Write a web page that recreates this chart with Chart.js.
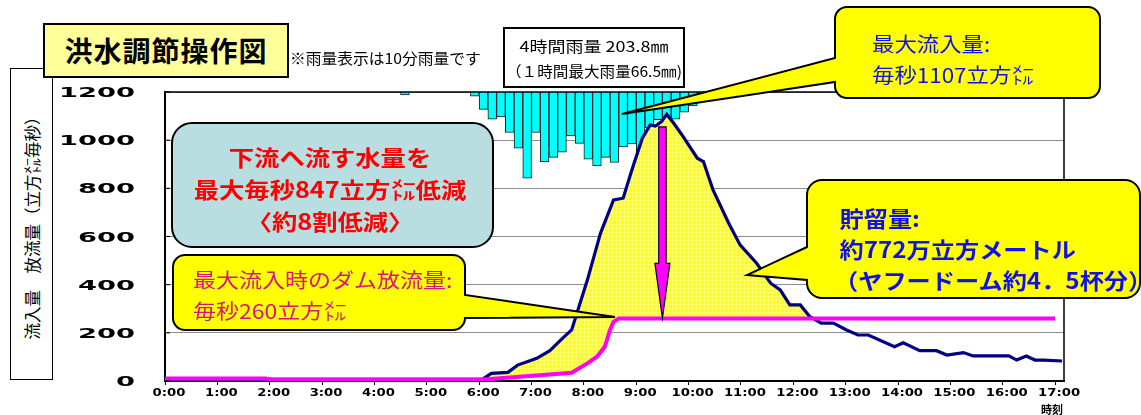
<!DOCTYPE html>
<html lang="ja">
<head>
<meta charset="utf-8">
<title>洪水調節操作図</title>
<script src="https://cdn.jsdelivr.net/npm/chart.js@4.4.1/dist/chart.umd.min.js"></script>
<style>
  body { margin: 0; background: #fff; }
  #wrap { position: relative; width: 1141px; height: 415px; overflow: hidden; background: #fff;
          font-family: "Noto Sans CJK JP", "Noto Sans", sans-serif; }
  #c, #shapes { position: absolute; left: 0; top: 0; }
  .txt { position: absolute; white-space: nowrap; }
  .ytitle { position: absolute; left: 10px; top: 68px; width: 43px; height: 312px; box-sizing: border-box;
            border: 1.5px solid #000; background: #fff; }
  .ytitle span { position: absolute; left: 50%; top: 50%; white-space: nowrap; font-size: 16.5px;
                 transform: translate(-50%, -50%) rotate(-90deg); }
  .title { position: absolute; left: 43px; top: 23px; width: 246px; height: 55px; box-sizing: border-box;
           border: 2px solid #000; background: #ffff99; font-weight: bold; font-size: 28px;
           letter-spacing: 1px; line-height: 51px; text-align: center; }
  .rainbox { position: absolute; left: 503px; top: 27px; width: 182px; height: 61px; box-sizing: border-box;
             border: 2px solid #000; background: #fff; }
  .rainbox div { position: absolute; left: 0; width: 178px; text-align: center; white-space: nowrap; }
</style>
</head>
<body>
<div id="wrap">
  <canvas id="c" width="1141" height="415"></canvas>
  <svg id="shapes" width="1141" height="415">
    <path d="M847,7 H1088 A12,12 0 0 1 1100,19 V86 A12,12 0 0 1 1088,98 H847 A12,12 0 0 1 835,86 V82 L622,114 L835,58 V19 A12,12 0 0 1 847,7 Z"
          fill="#ffff00" stroke="#000" stroke-width="2"/>
    <rect x="172" y="123" width="321" height="124" rx="20" fill="#b8dee2" stroke="#000" stroke-width="2"/>
    <path d="M185,255 H453 A12,12 0 0 1 465,267 V295 L615,317 L465,318 A12,12 0 0 1 453,330 H185 A12,12 0 0 1 173,318 V267 A12,12 0 0 1 185,255 Z"
          fill="#ffff00" stroke="#000" stroke-width="2"/>
    <path d="M822,180 H1125 A15,15 0 0 1 1140,195 V283 A15,15 0 0 1 1125,298 H822 A15,15 0 0 1 807,283 V280 L747,275 L807,247 V195 A15,15 0 0 1 822,180 Z"
          fill="#ffff00" stroke="#000" stroke-width="2"/>
  </svg>

  <div class="ytitle"><span>流入量　放流量（立方㍍毎秒）</span></div>
  <div class="title">洪水調節操作図</div>
  <div class="txt" style="left:290px; top:48px; font-size:15px; line-height:20px; transform:scaleX(1.05); transform-origin:left;">※雨量表示は10分雨量です</div>

  <div class="rainbox">
    <div style="top:6px; font-size:15px; line-height:22px; transform:scaleX(1.2);">4時間雨量 203.8㎜</div>
    <div style="top:32px; font-size:15px; line-height:20px; transform:scaleX(1.04);">（１時間最大雨量66.5㎜)</div>
  </div>

  <div class="txt" style="left:872px; top:27.5px; font-size:20px; line-height:31px; color:#1010e8; transform:scaleX(1.12); transform-origin:left;">最大流入量:<br>毎秒1107立方㍍</div>

  <div class="txt" style="left:165px; width:330px; top:140px; font-size:22px; line-height:32px; font-weight:bold; color:#ff0000; text-align:center; transform:scaleX(1.15);">下流へ流す水量を<br>最大毎秒847立方㍍低減<br>〈約8割低減〉</div>

  <div class="txt" style="left:193px; top:263.5px; font-size:20px; line-height:31px; color:#d6157c; transform:scaleX(1.15); transform-origin:left;">最大流入時のダム放流量:<br>毎秒260立方㍍</div>

  <div class="txt" style="left:834px; top:201.5px; font-size:22px; line-height:31px; font-weight:bold; color:#1010e8; transform:scaleX(1.1); transform-origin:left;">&nbsp;貯留量:<br>&nbsp;約772万立方メートル<br>（ヤフードーム約4．5杯分）</div>

  <div class="txt" style="left:1041px; top:402px; font-size:11px; line-height:14px; font-weight:bold;">時刻</div>
</div>

<script>
// 洪水調節操作図

// 流入量（立方㍍毎秒）
const inflowTime = ["0:00", "5:58", "6:04", "6:14", "6:33", "6:44", "6:55", "7:06", "7:21", "7:36", "7:46",
  "8:04", "8:19", "8:34", "8:45", "8:55", "9:07", "9:16", "9:22", "9:29", "9:35", "9:43", "9:54",
  "10:10", "10:17", "10:28", "10:46", "10:59", "11:18", "11:34", "11:45", "11:56", "12:08", "12:19",
  "12:32", "12:46", "13:01", "13:14", "13:26", "13:56", "14:06", "14:25", "14:44", "14:56", "15:15",
  "15:26", "16:07", "16:16", "16:27", "16:37", "16:47", "17:08"];
const inflowValue = [7, 7, 8, 32, 36, 66, 80, 94, 126, 179, 212,
  419, 613, 752, 759, 876, 1008, 1063, 1059, 1077, 1107, 1070, 1014,
  925, 911, 793, 655, 565, 489, 406, 378, 316, 316, 267,
  240, 240, 212, 191, 191, 142, 159, 126, 126, 108, 118,
  104, 104, 87, 104, 87, 87, 83];

// 放流量（立方㍍毎秒）
const outflowTime = ["0:00", "1:55", "2:03", "6:05", "7:46", "8:04", "8:15", "8:24", "8:30", "8:34", "8:40", "17:00"];
const outflowValue = [10, 10, 6, 6, 34, 73, 101, 142, 212, 246, 260, 260];

// 10分雨量（mm）
const rainTime = ["4:35", "5:55", "6:05", "6:15", "6:25", "6:35", "6:45", "6:55", "7:05", "7:15", "7:25",
  "7:35", "7:45", "7:55", "8:05", "8:15", "8:25", "8:35", "8:45", "8:55", "9:05", "9:15", "9:25",
  "9:35", "9:45", "9:55", "10:05", "10:15"];
const rainValue = [0.5, 0.7, 3.0, 4.7, 4.3, 7.0, 9.7, 14.9, 7.0, 12.1, 11.3,
  10.4, 7.6, 8.9, 11.6, 12.8, 11.3, 12.2, 9.5, 9.0, 10.7, 6.2, 4.8,
  4.5, 4.7, 3.5, 2.4, 0.9];

// 目盛
const flowTicks = [0, 200, 400, 600, 800, 1000, 1200];
const hourRange = [0, 17.17];
const rainRange = [0, 50];

// 最大流入時の低減（矢印）
const peakTime = "9:30";
const peakFrom = 1055;
const peakTo = 260;

function toHours(s) {
  const p = s.split(":");
  return Number(p[0]) + Number(p[1]) / 60;
}

function toPoints(times, values) {
  return times.map((t, i) => ({ x: toHours(t), y: values[i] }));
}

const canvas = document.getElementById("c");
const ctx = canvas.getContext("2d");

// 貯留量の網掛け
function makeMesh() {
  const tile = document.createElement("canvas");
  tile.width = 4;
  tile.height = 4;
  const g = tile.getContext("2d");
  g.fillStyle = "rgba(255,255,0,0.95)";
  g.fillRect(0, 0, 4, 4);
  g.fillStyle = "rgba(255,255,110,0.95)";
  g.fillRect(0, 0, 4, 1);
  g.fillRect(0, 0, 1, 4);
  return ctx.createPattern(tile, "repeat");
}

const decor = {
  id: "decor",
  afterDatasetsDraw(chart) {
    const c = chart.ctx;
    const xs = chart.scales.x;
    const ys = chart.scales.y;
    const x = xs.getPixelForValue(toHours(peakTime));
    const top = ys.getPixelForValue(peakFrom);
    const tip = ys.getPixelForValue(peakTo);
    const head = 55;
    c.save();
    c.beginPath();
    c.moveTo(x - 3.7, top);
    c.lineTo(x + 3.7, top);
    c.lineTo(x + 3.7, tip - head);
    c.lineTo(x + 7.5, tip - head);
    c.lineTo(x, tip);
    c.lineTo(x - 7.5, tip - head);
    c.lineTo(x - 3.7, tip - head);
    c.closePath();
    c.fillStyle = "#ff00ff";
    c.fill();
    c.lineWidth = 1.2;
    c.strokeStyle = "#000";
    c.stroke();
    c.restore();
  },
  afterDraw(chart) {
    const c = chart.ctx;
    const a = chart.chartArea;
    const xs = chart.scales.x;
    const ys = chart.scales.y;
    c.save();
    // 枠
    c.strokeStyle = "#000";
    c.lineWidth = 1.5;
    c.beginPath();
    c.moveTo(a.left, a.top);
    c.lineTo(a.right, a.top);
    c.lineTo(a.right, a.bottom);
    c.stroke();
    // 縦軸の内向き目盛
    c.lineWidth = 1;
    ys.ticks.forEach(t => {
      const py = ys.getPixelForValue(t.value);
      c.beginPath();
      c.moveTo(a.left, py);
      c.lineTo(a.left + 5, py);
      c.stroke();
    });
    // 目盛ラベル（横長の太字）
    c.fillStyle = "#000";
    c.textBaseline = "middle";
    c.font = "bold 11px 'DejaVu Sans'";
    c.textAlign = "center";
    xs.ticks.forEach(t => {
      c.save();
      c.translate(xs.getPixelForValue(t.value) + 4, 393);
      c.scale(1.2, 1);
      c.fillText(t.label, 0, 0);
      c.restore();
    });
    c.font = "bold 14px 'DejaVu Sans'";
    c.textAlign = "right";
    ys.ticks.forEach(t => {
      c.save();
      c.translate(135, ys.getPixelForValue(t.value) + 1.5);
      c.scale(1.95, 1);
      c.fillText(t.label, 0, 0);
      c.restore();
    });
    c.restore();
  }
};

new Chart(canvas, {
  type: "line",
  data: {
    datasets: [
      {
        label: "流入量",
        data: toPoints(inflowTime, inflowValue),
        borderColor: "#000080",
        borderWidth: 3.2,
        pointRadius: 0,
        tension: 0,
        fill: { target: 1, above: makeMesh(), below: "rgba(0,0,0,0)" },
        order: 1
      },
      {
        label: "放流量",
        data: toPoints(outflowTime, outflowValue),
        borderColor: "#ff00ff",
        borderWidth: 4,
        pointRadius: 0,
        tension: 0,
        fill: false,
        order: 0
      },
      {
        type: "bar",
        label: "10分雨量",
        data: toPoints(rainTime, rainValue),
        yAxisID: "rain",
        backgroundColor: "#00ffff",
        borderColor: "#1a1a1a",
        borderWidth: 1,
        barPercentage: 1,
        categoryPercentage: 1,
        order: 3
      }
    ]
  },
  options: {
    responsive: false,
    animation: false,
    devicePixelRatio: 1,
    layout: { padding: { top: 92, right: 77, bottom: 0, left: 0 } },
    plugins: { legend: { display: false }, tooltip: { enabled: false } },
    scales: {
      x: {
        type: "linear",
        min: hourRange[0],
        max: hourRange[1],
        offset: false,
        grid: { offset: false, drawOnChartArea: false, drawTicks: true, tickLength: 4, tickColor: "#000" },
        border: { color: "#000", width: 2 },
        ticks: { stepSize: 1, includeBounds: false, display: false, callback: v => Math.round(v) + ":00" },
        afterFit: s => { s.height = 34; }
      },
      y: {
        min: flowTicks[0],
        max: flowTicks[flowTicks.length - 1],
        grid: { color: "#8c8c8c", lineWidth: 1, drawTicks: false },
        border: { color: "#000", width: 2 },
        ticks: { stepSize: 200, display: false, callback: v => String(v) },
        afterFit: s => { s.width = 165; }
      },
      rain: {
        type: "linear",
        position: "right",
        reverse: true,
        min: rainRange[0],
        max: rainRange[1],
        display: false
      }
    }
  },
  plugins: [decor]
});
</script>
</body>
</html>
